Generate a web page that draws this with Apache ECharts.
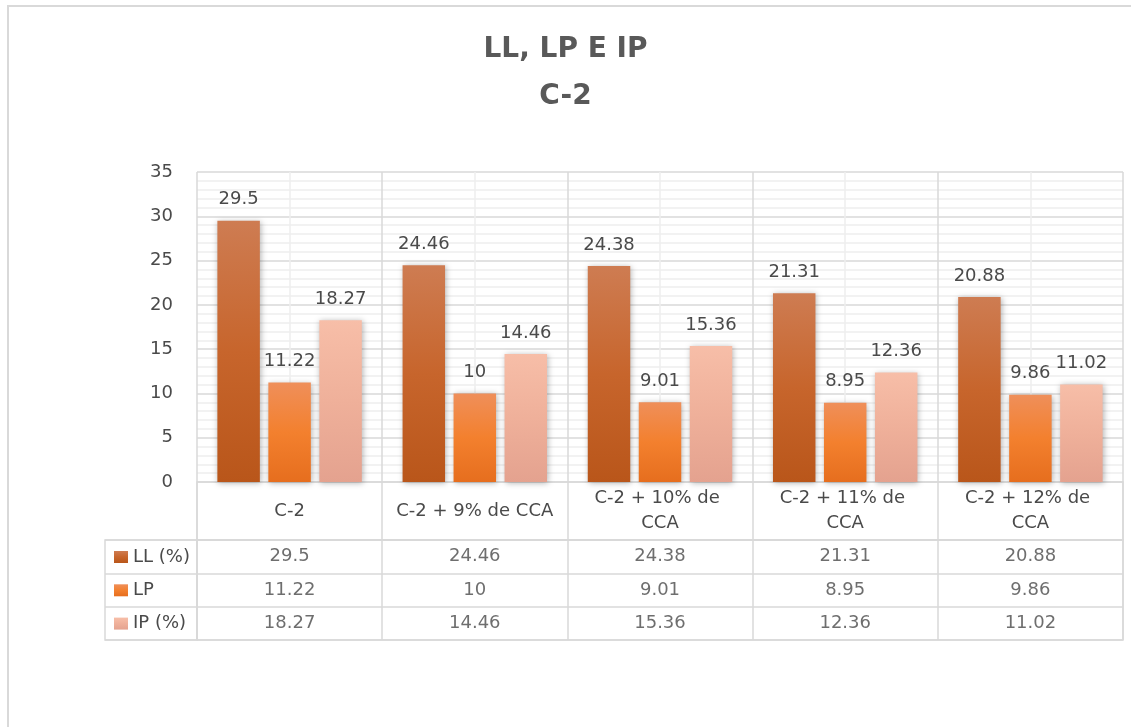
<!DOCTYPE html>
<html>
<head>
<meta charset="utf-8">
<title>LL, LP E IP – C-2</title>
<script src="https://cdn.jsdelivr.net/npm/echarts@6/dist/echarts.min.js"></script>
<style>
  html, body { margin: 0; padding: 0; background: #ffffff; }
  #main { width: 1131px; height: 727px; }
</style>
</head>
<body>
<div id="main"></div>
<script>
// Mixtures and their Atterberg limits
const categories = ['C-2', 'C-2 + 9% de CCA', 'C-2 + 10% de CCA', 'C-2 + 11% de CCA', 'C-2 + 12% de CCA'];
const seriesNames = ['LL (%)', 'LP', 'IP (%)'];
const llValues = [29.5, 24.46, 24.38, 21.31, 20.88];
const lpValues = [11.22, 10, 9.01, 8.95, 9.86];
const ipValues = [18.27, 14.46, 15.36, 12.36, 11.02];
const yMin = 0, yMax = 35, yStep = 5;

const TITLE = '#595959';
const TEXT = '#4a4a4a';
const LINE = '#d9d9d9';
const MINOR = '#eeeeee';
const FONT = 'DejaVu Sans';

function grad(top, mid, bottom) {
  return new echarts.graphic.LinearGradient(0, 0, 0, 1, [
    { offset: 0, color: top },
    { offset: 0.5, color: mid },
    { offset: 1, color: bottom }
  ]);
}
const fills = [
  grad('#ce7c52', '#c7652c', '#b9561a'),
  grad('#ef8f5a', '#f3802e', '#e66e1e'),
  grad('#f7bea8', '#efb09a', '#e4a28f')
];
const valueSets = [llValues, lpValues, ipValues];

const chart = echarts.init(document.getElementById('main'), null, { renderer: 'canvas' });

const barSeries = seriesNames.map((name, k) => ({
  name: name,
  type: 'bar',
  xAxisIndex: 0,
  yAxisIndex: 0,
  data: valueSets[k],
  barGap: '20%',
  barCategoryGap: '22%',
  itemStyle: {
    color: fills[k],
    shadowBlur: 6,
    shadowColor: 'rgba(0,0,0,0.3)',
    shadowOffsetX: 1,
    shadowOffsetY: 1
  },
  label: {
    show: true,
    position: 'top',
    distance: 12,
    fontFamily: FONT,
    fontSize: 18,
    color: TEXT
  },
  z: 3
}));

// data table cells: one scatter per row, text only
const tableSeries = seriesNames.map((name, k) => ({
  name: 'tabla ' + name,
  type: 'scatter',
  xAxisIndex: 3,
  yAxisIndex: 2,
  symbolSize: 1,
  itemStyle: { color: 'rgba(0,0,0,0)' },
  data: valueSets[k].map((v, i) => [categories[i], name, v]),
  label: {
    show: true,
    position: 'inside',
    formatter: p => String(p.value[2]),
    fontFamily: FONT,
    fontSize: 18,
    color: TEXT
  },
  silent: true
}));

const hiddenAxisParts = {
  axisLine: { show: false },
  axisTick: { show: false },
  axisLabel: { show: false }
};
const tableLine = { show: true, lineStyle: { color: LINE, width: 1.5 } };
const gridBox = { show: true, borderColor: LINE, borderWidth: 1.5, backgroundColor: 'transparent' };

const option = {
  animation: false,
  backgroundColor: '#ffffff',
  textStyle: { fontFamily: FONT },
  title: {
    text: 'LL, LP E IP\nC-2',
    left: 'center',
    top: 26,
    padding: 0,
    textStyle: {
      fontFamily: FONT,
      fontSize: 28,
      fontWeight: 'bold',
      color: TITLE,
      lineHeight: 47
    }
  },
  legend: {
    data: seriesNames,
    orient: 'vertical',
    left: 114,
    top: 547,
    padding: 0,
    itemWidth: 14,
    itemHeight: 12,
    itemGap: 13.3,
    icon: 'rect',
    selectedMode: false,
    itemStyle: { shadowBlur: 0, shadowOffsetX: 0, shadowOffsetY: 0 },
    textStyle: { fontFamily: FONT, fontSize: 18, color: TEXT, lineHeight: 20 }
  },
  grid: [
    { left: 197, right: 8, top: 172, bottom: 245, containLabel: false },
    Object.assign({ left: 197, right: 8, top: 482, height: 58 }, gridBox),
    Object.assign({ left: 197, right: 8, top: 540, height: 100 }, gridBox),
    Object.assign({ left: 105, width: 92, top: 540, height: 100 }, gridBox)
  ],
  xAxis: [
    {
      type: 'category',
      gridIndex: 0,
      data: categories,
      axisLine: { show: false },
      axisTick: { show: false },
      splitLine: { show: false },
      axisLabel: {
        interval: 0,
        margin: 29,
        verticalAlign: 'middle',
        align: 'center',
        width: 162,
        overflow: 'break',
        lineHeight: 25,
        fontFamily: FONT,
        fontSize: 18,
        color: TEXT
      }
    },
    Object.assign({
      type: 'value',
      gridIndex: 0,
      min: 0,
      max: categories.length,
      interval: 1,
      splitLine: { show: true, lineStyle: { color: LINE, width: 1.5 } },
      minorTick: { show: false, splitNumber: 2 },
      minorSplitLine: { show: true, lineStyle: { color: MINOR, width: 1.5 } }
    }, hiddenAxisParts),
    Object.assign({ type: 'category', gridIndex: 1, data: categories, splitLine: tableLine }, hiddenAxisParts),
    Object.assign({ type: 'category', gridIndex: 2, data: categories, splitLine: tableLine }, hiddenAxisParts),
    { type: 'value', gridIndex: 3, show: false }
  ],
  yAxis: [
    {
      type: 'value',
      gridIndex: 0,
      min: yMin,
      max: yMax,
      interval: yStep,
      axisLine: { show: false },
      axisTick: { show: false },
      axisLabel: { margin: 24, fontFamily: FONT, fontSize: 18, color: TEXT },
      splitLine: { show: true, lineStyle: { color: LINE, width: 1.5 } },
      minorTick: { show: false, splitNumber: 5 },
      minorSplitLine: { show: true, lineStyle: { color: MINOR, width: 1.5 } }
    },
    { type: 'value', gridIndex: 1, show: false },
    Object.assign({ type: 'category', gridIndex: 2, data: seriesNames, inverse: true, splitLine: tableLine }, hiddenAxisParts),
    Object.assign({ type: 'category', gridIndex: 3, data: seriesNames, inverse: true, splitLine: tableLine }, hiddenAxisParts)
  ],
  graphic: [
    {
      type: 'rect',
      silent: true,
      z: -10,
      shape: { x: 8, y: 6, width: 1200, height: 800 },
      style: { fill: 'none', stroke: LINE, lineWidth: 2 }
    }
  ],
  series: barSeries.concat(tableSeries)
};

chart.setOption(option);
</script>
</body>
</html>
